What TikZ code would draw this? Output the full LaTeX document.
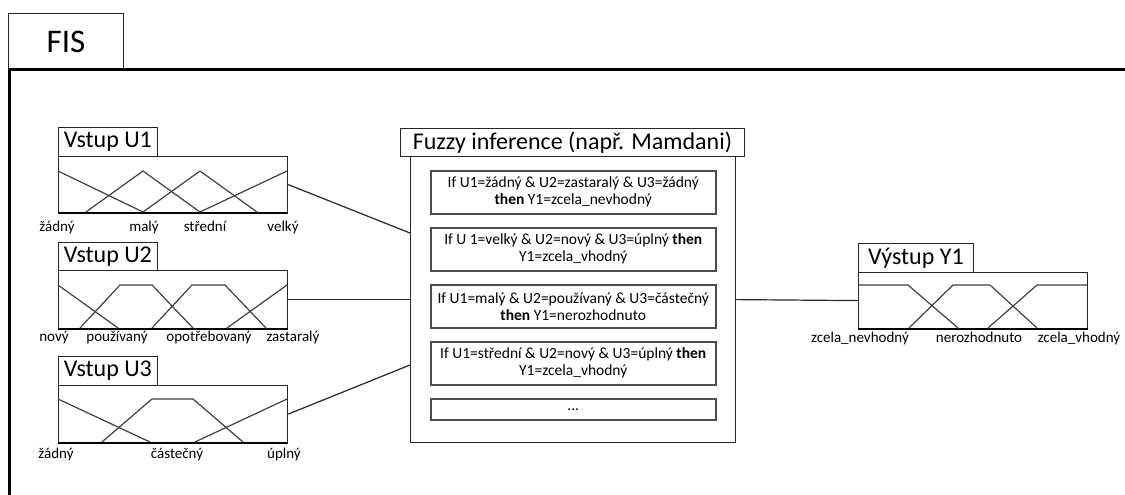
\documentclass[tikz,border=0pt]{standalone}
\usepackage{fontspec}
\setmainfont{Carlito}

\begin{document}
\begin{tikzpicture}[x=1pt,y=-1pt,
    box/.style={draw=black!85,line width=1.2pt,inner sep=0pt,anchor=north west},
    title/.style={box,line width=0.9pt,font=\fontsize{24}{24}\selectfont},
    graph/.style={box,minimum width=229pt},
    mf/.style={draw=black!75,line width=1.2pt},
    lbl/.style={anchor=base,inner sep=0pt,font=\fontsize{15}{15}\selectfont},
    rulebox/.style={box,draw=black!70,line width=1.5pt,minimum width=285pt,
      align=center,font=\fontsize{15.5}{17}\selectfont},
    conn/.style={draw=black!85,line width=1.2pt}]
      \useasboundingbox (0,0) rectangle (1125,495);
      %
      % FIS
      \node[title,minimum width=115pt,minimum height=57pt,
        font=\fontsize{33}{33}\selectfont] (fis) at (8,13) {FIS};
      \draw[line width=3pt] (1125,70) -- (9,70) -- (9,495);

      % Vstup U1
      \node[title,minimum width=99pt,minimum height=29pt] (t1) at (58,127) {Vstup U1};
      \node[graph,minimum height=56pt] (u1) at (58,156) {};
      \draw[line width=2pt] (u1.south west) -- (u1.south east);
      \draw[mf] (58,171) -- (143,212);
      \draw[mf] (86,212) -- (143,171) -- (200,212);
      \draw[mf] (143,212) -- (200,171) -- (257,212);
      \draw[mf] (200,212) -- (287,171);
      \node[lbl] (u1a) at (57,231) {žádný};
      \node[lbl] (u1b) at (144,231) {malý};
      \node[lbl] (u1c) at (205,231) {střední};
      \node[lbl] (u1d) at (283,231) {velký};

      % Vstup U2
      \node[title,minimum width=99pt,minimum height=28pt] (t2) at (58,242) {Vstup U2};
      \node[graph,minimum height=58pt] (u2) at (58,270) {};
      \draw[line width=2pt] (u2.south west) -- (u2.south east);
      \draw[mf] (58,285) -- (118,328);
      \draw[mf] (80,328) -- (120,285) -- (152,285) -- (193,328);
      \draw[mf] (152,328) -- (192,285) -- (225,285) -- (266,328);
      \draw[mf] (227,328) -- (287,285);
      \node[lbl] (u2a) at (54,341) {nový};
      \node[lbl] (u2b) at (117,341) {používaný};
      \node[lbl] (u2c) at (209,341) {opotřebovaný};
      \node[lbl] (u2d) at (293,341) {zastaralý};

      % Vstup U3
      \node[title,minimum width=99pt,minimum height=29pt] (t3) at (58,356) {Vstup U3};
      \node[graph,minimum height=57pt] (u3) at (58,385) {};
      \draw[line width=2pt] (u3.south west) -- (u3.south east);
      \draw[mf] (58,399) -- (150,442);
      \draw[mf] (102,442) -- (152,399) -- (193,399) -- (243,442);
      \draw[mf] (195,442) -- (287,399);
      \node[lbl] (u3a) at (56,458) {žádný};
      \node[lbl] (u3b) at (177,458) {částečný};
      \node[lbl] (u3c) at (284,458) {úplný};

      % Fuzzy inference
      \node[title,minimum width=344pt,minimum height=28pt] (tinf) at (400,128)
        {Fuzzy inference (např. Mamdani)};
      \node[box,minimum width=325pt,minimum height=286pt] (inf) at (410,156) {};
      \node[rulebox,minimum height=43pt] (r1) at (430,170)
        {If U1=žádný \& U2=zastaralý \& U3=žádný\\\textbf{then} Y1=zcela\_nevhodný};
      \node[rulebox,minimum height=43pt] (r2) at (430,227)
        {If U 1=velký \& U2=nový \& U3=úplný \textbf{then}\\Y1=zcela\_vhodný};
      \node[rulebox,minimum height=43pt] (r3) at (430,284)
        {If U1=malý \& U2=používaný \& U3=částečný\\\textbf{then} Y1=nerozhodnuto};
      \node[rulebox,minimum height=43pt] (r4) at (430,341)
        {If U1=střední \& U2=nový \& U3=úplný \textbf{then}\\Y1=zcela\_vhodný};
      \node[rulebox,minimum height=21pt] (r5) at (430,398) {...};

      % Vystup Y1
      \node[title,minimum width=115pt,minimum height=29pt] (ty1) at (858,243) {Výstup Y1};
      \node[graph,minimum height=56pt] (y1) at (858,272) {};
      \draw[line width=2pt] (y1.south west) -- (y1.south east);
      \draw[mf] (858,285) -- (908,285) -- (958,328);
      \draw[mf] (909,328) -- (953,285) -- (990,285) -- (1037,328);
      \draw[mf] (988,328) -- (1037,285) -- (1087,285);
      \node[lbl] (y1a) at (860,342) {zcela\_nevhodný};
      \node[lbl] (y1b) at (979,342) {nerozhodnuto};
      \node[lbl] (y1c) at (1079,342) {zcela\_vhodný};

      % connectors
      \coordinate (in1) at (410,233);
      \coordinate (in3) at (410,365);
      \draw[conn] (u1.east) -- (in1);
      \draw[conn] (u2.east) -- (inf.west);
      \draw[conn] (u3.east) -- (in3);
      \draw[conn] (inf.east) -- (y1.west);
    \end{tikzpicture}
\end{document}
